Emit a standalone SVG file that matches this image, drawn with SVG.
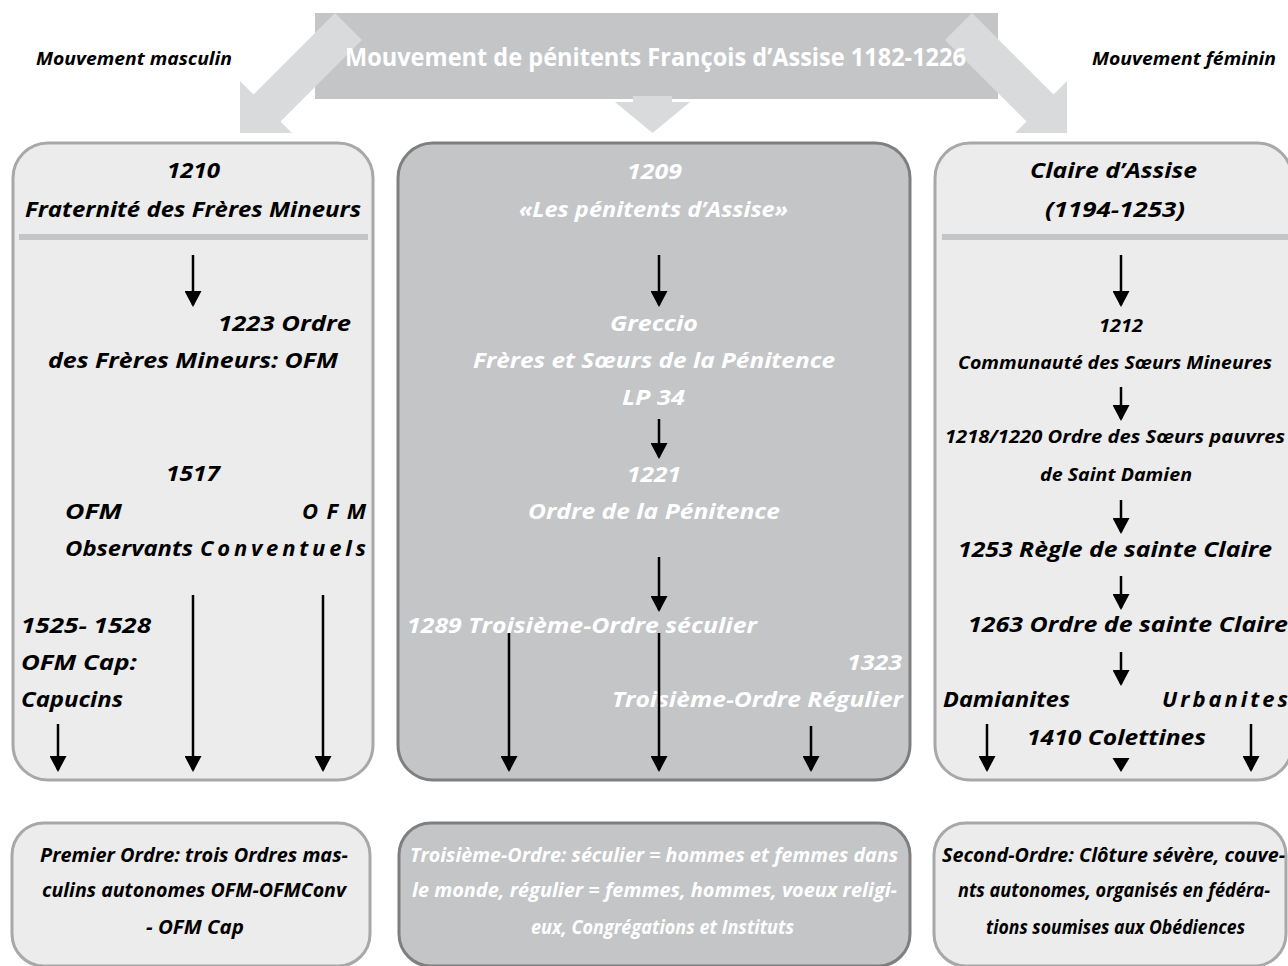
<svg xmlns="http://www.w3.org/2000/svg" width="1288" height="966" viewBox="0 0 1288 966">
<defs>
<style>
.t{font-family:"Open Sans","DejaVu Sans",sans-serif;font-weight:bold;font-style:italic;}
.c{font-family:"Open Sans","DejaVu Sans",sans-serif;font-weight:bold;}
.k{fill:#000}
.w{fill:#fff}
.s21{font-size:22px}
.s17{font-size:18px}
.s16{font-size:17px}
.s18{font-size:19px}
.light{fill:#ececec;stroke:#a8a8a8;stroke-width:3}
.dark{fill:#c4c5c7;stroke:#7f7f7f;stroke-width:3}
.sep{fill:#c4c5c7}
.big{fill:#d9dadc}
.ar{stroke:#000;stroke-width:2.5;fill:none;marker-end:url(#ah)}
</style>
<marker id="ah" viewBox="0 0 16 17" refX="14" refY="8.5" markerWidth="16" markerHeight="17" markerUnits="userSpaceOnUse" orient="auto">
<path d="M0,0 L16,8.5 L0,17 z" fill="#000"/>
</marker>
</defs>
<rect width="1288" height="966" fill="#fff"/>

<g id="label-masculin">
<text class="t k s17" x="36" y="65" textLength="196" lengthAdjust="spacingAndGlyphs">Mouvement masculin</text>
</g>
<g id="label-feminin">
<text class="t k s17" x="1092" y="65" textLength="184" lengthAdjust="spacingAndGlyphs">Mouvement féminin</text>
</g>

<g id="banner">
<rect x="315" y="13" width="683" height="86" fill="#c4c5c7"/>
</g>

<g id="box-premier">
<rect class="light" x="13" y="143" width="360" height="637" rx="35"/>
<rect class="sep" x="19" y="234" width="349" height="6"/>
<text class="t k s21" x="167" y="178" textLength="53" lengthAdjust="spacingAndGlyphs">1210</text>
<text class="t k s21" x="25" y="217" textLength="336" lengthAdjust="spacingAndGlyphs">Fraternité des Frères Mineurs</text>
<text class="t k s21" x="218" y="331" textLength="133" lengthAdjust="spacingAndGlyphs">1223 Ordre</text>
<text class="t k s21" x="48" y="368" textLength="290" lengthAdjust="spacingAndGlyphs">des Frères Mineurs: OFM</text>
<text class="t k s21" x="166" y="481" textLength="54" lengthAdjust="spacingAndGlyphs">1517</text>
<text class="t k s21" x="65" y="519" textLength="57" lengthAdjust="spacingAndGlyphs">OFM</text>
<text class="t k s21" x="302" y="519" textLength="64" lengthAdjust="spacing">OFM</text>
<text class="t k s21" x="65" y="556" textLength="128" lengthAdjust="spacingAndGlyphs">Observants</text>
<text class="t k s21" x="200" y="556" textLength="166" lengthAdjust="spacing">Conventuels</text>
<text class="t k s21" x="21" y="633" textLength="130" lengthAdjust="spacingAndGlyphs">1525- 1528</text>
<text class="t k s21" x="21" y="670" textLength="116" lengthAdjust="spacingAndGlyphs">OFM Cap:</text>
<text class="t k s21" x="21" y="707" textLength="102" lengthAdjust="spacingAndGlyphs">Capucins</text>
</g>

<g id="box-troisieme">
<rect class="dark" x="398" y="143" width="512" height="637" rx="35"/>
<text class="t w s21" x="627" y="179" textLength="55" lengthAdjust="spacingAndGlyphs">1209</text>
<text class="t w s21" x="519" y="217" textLength="269" lengthAdjust="spacingAndGlyphs">«Les pénitents d’Assise»</text>
<text class="t w s21" x="610" y="331" textLength="88" lengthAdjust="spacingAndGlyphs">Greccio</text>
<text class="t w s21" x="473" y="368" textLength="362" lengthAdjust="spacingAndGlyphs">Frères et Sœurs de la Pénitence</text>
<text class="t w s21" x="622" y="405" textLength="63" lengthAdjust="spacingAndGlyphs">LP 34</text>
<text class="t w s21" x="627" y="482" textLength="54" lengthAdjust="spacingAndGlyphs">1221</text>
<text class="t w s21" x="528" y="519" textLength="252" lengthAdjust="spacingAndGlyphs">Ordre de la Pénitence</text>
<text class="t w s21" x="407" y="633" textLength="350" lengthAdjust="spacingAndGlyphs">1289 Troisième-Ordre séculier</text>
<text class="t w s21" x="847" y="670" textLength="55" lengthAdjust="spacingAndGlyphs">1323</text>
<text class="t w s21" x="612" y="707" textLength="291" lengthAdjust="spacingAndGlyphs">Troisième-Ordre Régulier</text>
</g>

<g id="box-second">
<rect class="light" x="935" y="143" width="357" height="637" rx="35"/>
<rect class="sep" x="942" y="234" width="346" height="6"/>
<text class="t k s21" x="1030" y="178" textLength="167" lengthAdjust="spacingAndGlyphs">Claire d’Assise</text>
<text class="t k s21" x="1045" y="217" textLength="140" lengthAdjust="spacingAndGlyphs">(1194-1253)</text>
<text class="t k s16" x="1099" y="332" textLength="44" lengthAdjust="spacingAndGlyphs">1212</text>
<text class="t k s17" x="958" y="369" textLength="314" lengthAdjust="spacingAndGlyphs">Communauté des Sœurs Mineures</text>
<text class="t k s17" x="945" y="443" textLength="340" lengthAdjust="spacingAndGlyphs">1218/1220 Ordre des Sœurs pauvres</text>
<text class="t k s17" x="1040" y="481" textLength="152" lengthAdjust="spacingAndGlyphs">de Saint Damien</text>
<text class="t k s21" x="958" y="557" textLength="314" lengthAdjust="spacingAndGlyphs">1253 Règle de sainte Claire</text>
<text class="t k s21" x="968" y="632" textLength="320" lengthAdjust="spacingAndGlyphs">1263 Ordre de sainte Claire</text>
<text class="t k s21" x="943" y="707" textLength="127" lengthAdjust="spacingAndGlyphs">Damianites</text>
<text class="t k s21" x="1162" y="707" textLength="126" lengthAdjust="spacing">Urbanites</text>
<text class="t k s21" x="1027" y="745" textLength="179" lengthAdjust="spacingAndGlyphs">1410 Colettines</text>
</g>

<g id="bottom-premier">
<rect class="light" x="12" y="823" width="358" height="143" rx="32"/>
<text class="t k s18" x="40" y="862" textLength="308" lengthAdjust="spacingAndGlyphs">Premier Ordre: trois Ordres mas-</text>
<text class="t k s18" x="42" y="897" textLength="304" lengthAdjust="spacingAndGlyphs">culins autonomes OFM-OFMConv</text>
<text class="t k s18" x="146" y="934" textLength="98" lengthAdjust="spacingAndGlyphs">- OFM Cap</text>
</g>

<g id="bottom-troisieme">
<rect class="dark" x="399" y="823" width="511" height="143" rx="32"/>
<text class="t w s18" x="410" y="862" textLength="488" lengthAdjust="spacingAndGlyphs">Troisième-Ordre: séculier = hommes et femmes dans</text>
<text class="t w s18" x="412" y="897" textLength="485" lengthAdjust="spacingAndGlyphs">le monde, régulier = femmes, hommes, voeux religi-</text>
<text class="t w s18" x="531" y="934" textLength="263" lengthAdjust="spacingAndGlyphs">eux, Congrégations et Instituts</text>
</g>

<g id="bottom-second">
<rect class="light" x="934" y="823" width="352" height="143" rx="32"/>
<text class="t k s18" x="942" y="862" textLength="343" lengthAdjust="spacingAndGlyphs">Second-Ordre: Clôture sévère, couve-</text>
<text class="t k s18" x="958" y="897" textLength="312" lengthAdjust="spacingAndGlyphs">nts autonomes, organisés en fédéra-</text>
<text class="t k s18" x="986" y="934" textLength="259" lengthAdjust="spacingAndGlyphs">tions soumises aux Obédiences</text>
</g>

<g id="connectors">
<polygon class="big" points="335,13 362,40 280.5,121.5 292,133 240,133 240,81 253.5,94.5"/>
<polygon class="big" points="972,13 945,40 1026.5,121.5 1015,133 1067,133 1067,81 1053.5,94.5"/>
<polygon class="big" points="633,96 672,96 672,102 690,102 652.5,133 615,102 633,102"/>
<line class="ar" x1="193" y1="255" x2="193" y2="305"/>
<line class="ar" x1="193" y1="595" x2="193" y2="770"/>
<line class="ar" x1="323" y1="595" x2="323" y2="770"/>
<line class="ar" x1="58" y1="724" x2="58" y2="770"/>
<line class="ar" x1="659" y1="255" x2="659" y2="305"/>
<line class="ar" x1="659" y1="419" x2="659" y2="457"/>
<line class="ar" x1="659" y1="557" x2="659" y2="610"/>
<line class="ar" x1="509" y1="633" x2="509" y2="770"/>
<line class="ar" x1="659" y1="633" x2="659" y2="770"/>
<line class="ar" x1="811" y1="726" x2="811" y2="770"/>
<line class="ar" x1="1121" y1="255" x2="1121" y2="305"/>
<line class="ar" x1="1121" y1="387" x2="1121" y2="419"/>
<line class="ar" x1="1121" y1="500" x2="1121" y2="532"/>
<line class="ar" x1="1121" y1="576" x2="1121" y2="608"/>
<line class="ar" x1="1121" y1="652" x2="1121" y2="684"/>
<line class="ar" x1="987" y1="724" x2="987" y2="770"/>
<line class="ar" x1="1251" y1="724" x2="1251" y2="770"/>
<polygon points="1112.5,758 1129.5,758 1121,772" fill="#000"/>
</g>

<g id="banner-label">
<text class="c w" x="345" y="66" font-size="25" textLength="621" lengthAdjust="spacingAndGlyphs">Mouvement de pénitents François d’Assise 1182-1226</text>
</g>
</svg>
